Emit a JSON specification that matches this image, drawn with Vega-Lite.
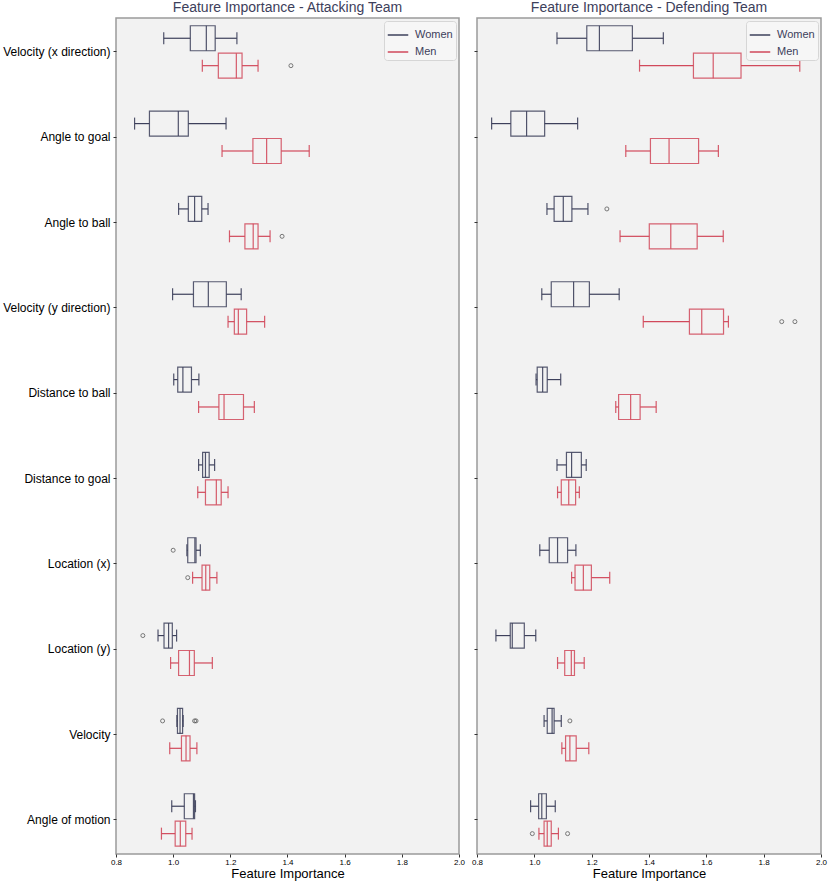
{
  "$schema": "https://vega.github.io/schema/vega-lite/v6.json",
  "padding": {"left": 1, "top": 0, "right": 6, "bottom": 0},
  "background": "white",
  "datasets": {
    "boxes": [
      {"team": "Attacking", "feature": "Velocity (x direction)", "gender": "Women", "lower": 0.967, "q1": 1.06, "median": 1.116, "q3": 1.147, "upper": 1.223},
      {"team": "Attacking", "feature": "Velocity (x direction)", "gender": "Men", "lower": 1.102, "q1": 1.158, "median": 1.221, "q3": 1.241, "upper": 1.297},
      {"team": "Attacking", "feature": "Angle to goal", "gender": "Women", "lower": 0.865, "q1": 0.917, "median": 1.018, "q3": 1.053, "upper": 1.185},
      {"team": "Attacking", "feature": "Angle to goal", "gender": "Men", "lower": 1.171, "q1": 1.279, "median": 1.327, "q3": 1.378, "upper": 1.476},
      {"team": "Attacking", "feature": "Angle to ball", "gender": "Women", "lower": 1.019, "q1": 1.053, "median": 1.075, "q3": 1.1, "upper": 1.122},
      {"team": "Attacking", "feature": "Angle to ball", "gender": "Men", "lower": 1.197, "q1": 1.251, "median": 1.28, "q3": 1.297, "upper": 1.339},
      {"team": "Attacking", "feature": "Velocity (y direction)", "gender": "Women", "lower": 0.998, "q1": 1.071, "median": 1.123, "q3": 1.186, "upper": 1.238},
      {"team": "Attacking", "feature": "Velocity (y direction)", "gender": "Men", "lower": 1.192, "q1": 1.214, "median": 1.228, "q3": 1.257, "upper": 1.32},
      {"team": "Attacking", "feature": "Distance to ball", "gender": "Women", "lower": 1.002, "q1": 1.016, "median": 1.034, "q3": 1.064, "upper": 1.09},
      {"team": "Attacking", "feature": "Distance to ball", "gender": "Men", "lower": 1.089, "q1": 1.16, "median": 1.178, "q3": 1.246, "upper": 1.284},
      {"team": "Attacking", "feature": "Distance to goal", "gender": "Women", "lower": 1.089, "q1": 1.103, "median": 1.113, "q3": 1.126, "upper": 1.145},
      {"team": "Attacking", "feature": "Distance to goal", "gender": "Men", "lower": 1.086, "q1": 1.113, "median": 1.151, "q3": 1.168, "upper": 1.192},
      {"team": "Attacking", "feature": "Location (x)", "gender": "Women", "lower": 1.048, "q1": 1.051, "median": 1.076, "q3": 1.08, "upper": 1.095},
      {"team": "Attacking", "feature": "Location (x)", "gender": "Men", "lower": 1.068, "q1": 1.101, "median": 1.114, "q3": 1.128, "upper": 1.153},
      {"team": "Attacking", "feature": "Location (y)", "gender": "Women", "lower": 0.947, "q1": 0.968, "median": 0.984, "q3": 0.997, "upper": 1.012},
      {"team": "Attacking", "feature": "Location (y)", "gender": "Men", "lower": 0.991, "q1": 1.019, "median": 1.057, "q3": 1.074, "upper": 1.137},
      {"team": "Attacking", "feature": "Velocity", "gender": "Women", "lower": 1.013, "q1": 1.015, "median": 1.024, "q3": 1.033, "upper": 1.035},
      {"team": "Attacking", "feature": "Velocity", "gender": "Men", "lower": 0.988, "q1": 1.029, "median": 1.045, "q3": 1.059, "upper": 1.083},
      {"team": "Attacking", "feature": "Angle of motion", "gender": "Women", "lower": 0.995, "q1": 1.039, "median": 1.071, "q3": 1.075, "upper": 1.078},
      {"team": "Attacking", "feature": "Angle of motion", "gender": "Men", "lower": 0.959, "q1": 1.007, "median": 1.025, "q3": 1.044, "upper": 1.066},
      {"team": "Defending", "feature": "Velocity (x direction)", "gender": "Women", "lower": 1.079, "q1": 1.183, "median": 1.227, "q3": 1.342, "upper": 1.45},
      {"team": "Defending", "feature": "Velocity (x direction)", "gender": "Men", "lower": 1.367, "q1": 1.555, "median": 1.624, "q3": 1.721, "upper": 1.926},
      {"team": "Defending", "feature": "Angle to goal", "gender": "Women", "lower": 0.851, "q1": 0.918, "median": 0.973, "q3": 1.036, "upper": 1.151},
      {"team": "Defending", "feature": "Angle to goal", "gender": "Men", "lower": 1.319, "q1": 1.405, "median": 1.47, "q3": 1.573, "upper": 1.642},
      {"team": "Defending", "feature": "Angle to ball", "gender": "Women", "lower": 1.044, "q1": 1.069, "median": 1.101, "q3": 1.131, "upper": 1.187},
      {"team": "Defending", "feature": "Angle to ball", "gender": "Men", "lower": 1.299, "q1": 1.401, "median": 1.476, "q3": 1.568, "upper": 1.659},
      {"team": "Defending", "feature": "Velocity (y direction)", "gender": "Women", "lower": 1.026, "q1": 1.059, "median": 1.137, "q3": 1.192, "upper": 1.296},
      {"team": "Defending", "feature": "Velocity (y direction)", "gender": "Men", "lower": 1.38, "q1": 1.541, "median": 1.584, "q3": 1.66, "upper": 1.677},
      {"team": "Defending", "feature": "Distance to ball", "gender": "Women", "lower": 1.006, "q1": 1.01, "median": 1.029, "q3": 1.045, "upper": 1.092},
      {"team": "Defending", "feature": "Distance to ball", "gender": "Men", "lower": 1.284, "q1": 1.294, "median": 1.336, "q3": 1.369, "upper": 1.425},
      {"team": "Defending", "feature": "Distance to goal", "gender": "Women", "lower": 1.079, "q1": 1.112, "median": 1.13, "q3": 1.164, "upper": 1.181},
      {"team": "Defending", "feature": "Distance to goal", "gender": "Men", "lower": 1.081, "q1": 1.094, "median": 1.12, "q3": 1.144, "upper": 1.157},
      {"team": "Defending", "feature": "Location (x)", "gender": "Women", "lower": 1.019, "q1": 1.052, "median": 1.081, "q3": 1.116, "upper": 1.145},
      {"team": "Defending", "feature": "Location (x)", "gender": "Men", "lower": 1.13, "q1": 1.142, "median": 1.171, "q3": 1.199, "upper": 1.263},
      {"team": "Defending", "feature": "Location (y)", "gender": "Women", "lower": 0.866, "q1": 0.916, "median": 0.923, "q3": 0.965, "upper": 1.005},
      {"team": "Defending", "feature": "Location (y)", "gender": "Men", "lower": 1.081, "q1": 1.106, "median": 1.129, "q3": 1.14, "upper": 1.174},
      {"team": "Defending", "feature": "Velocity", "gender": "Women", "lower": 1.034, "q1": 1.045, "median": 1.062, "q3": 1.069, "upper": 1.094},
      {"team": "Defending", "feature": "Velocity", "gender": "Men", "lower": 1.096, "q1": 1.109, "median": 1.124, "q3": 1.146, "upper": 1.19},
      {"team": "Defending", "feature": "Angle of motion", "gender": "Women", "lower": 0.987, "q1": 1.015, "median": 1.026, "q3": 1.042, "upper": 1.073},
      {"team": "Defending", "feature": "Angle of motion", "gender": "Men", "lower": 1.016, "q1": 1.034, "median": 1.045, "q3": 1.059, "upper": 1.084}
    ],
    "outliers": [
      {"team": "Attacking", "feature": "Velocity (x direction)", "gender": "Men", "value": 1.412},
      {"team": "Attacking", "feature": "Angle to ball", "gender": "Men", "value": 1.381},
      {"team": "Attacking", "feature": "Location (x)", "gender": "Women", "value": 1.0},
      {"team": "Attacking", "feature": "Location (x)", "gender": "Men", "value": 1.051},
      {"team": "Attacking", "feature": "Location (y)", "gender": "Women", "value": 0.894},
      {"team": "Attacking", "feature": "Velocity", "gender": "Women", "value": 0.963},
      {"team": "Attacking", "feature": "Velocity", "gender": "Women", "value": 1.075},
      {"team": "Attacking", "feature": "Velocity", "gender": "Women", "value": 1.08},
      {"team": "Defending", "feature": "Angle to ball", "gender": "Women", "value": 1.253},
      {"team": "Defending", "feature": "Velocity (y direction)", "gender": "Men", "value": 1.863},
      {"team": "Defending", "feature": "Velocity (y direction)", "gender": "Men", "value": 1.909},
      {"team": "Defending", "feature": "Velocity", "gender": "Women", "value": 1.124},
      {"team": "Defending", "feature": "Angle of motion", "gender": "Men", "value": 0.993},
      {"team": "Defending", "feature": "Angle of motion", "gender": "Men", "value": 1.116}
    ]
  },
  "hconcat": [
    {
      "width": 343,
      "height": 836,
      "title": {"text": "Feature Importance - Attacking Team"},
      "encoding": {
        "y": {"field": "feature", "type": "nominal", "title": null,
          "scale": {"domain": ["Velocity (x direction)", "Angle to goal", "Angle to ball", "Velocity (y direction)", "Distance to ball", "Distance to goal", "Location (x)", "Location (y)", "Velocity", "Angle of motion"], "paddingInner": 0, "paddingOuter": 0, "range": [-8.7, 844.6]},
          "axis": {"labels": true}},
        "yOffset": {"field": "gender", "type": "nominal", "scale": {"domain": ["Women", "Men"], "paddingInner": 0, "paddingOuter": 0.557}}
      },
      "layer": [
        {"data": {"name": "boxes"}, "transform": [{"filter": "datum.team === 'Attacking'"}],
          "mark": {"type": "rule", "strokeWidth": 1.2},
          "encoding": {"x": {"field": "lower", "type": "quantitative", "scale": {"domain": [0.8, 2.0], "nice": false, "zero": false}, "title": "Feature Importance", "axis": {"values": [0.8, 1.0, 1.2, 1.4, 1.6, 1.8, 2.0], "format": ".1f"}}, "x2": {"field": "q1"},
            "color": {"field": "gender", "type": "nominal", "scale": {"domain": ["Women", "Men"], "range": ["#3d405b", "#d1495b"]}, "title": null}}},
        {"data": {"name": "boxes"}, "transform": [{"filter": "datum.team === 'Attacking'"}],
          "mark": {"type": "rule", "strokeWidth": 1.2},
          "encoding": {"x": {"field": "q3", "type": "quantitative"}, "x2": {"field": "upper"},
            "color": {"field": "gender", "type": "nominal"}}},
        {"data": {"name": "boxes"}, "transform": [{"filter": "datum.team === 'Attacking'"}],
          "mark": {"type": "bar", "filled": false, "strokeWidth": 1.2, "height": 25, "opacity": 0.85},
          "encoding": {"x": {"field": "q1", "type": "quantitative"}, "x2": {"field": "q3"},
            "color": {"field": "gender", "type": "nominal"}}},
        {"data": {"name": "boxes"}, "transform": [{"filter": "datum.team === 'Attacking'"}],
          "mark": {"type": "tick", "size": 25, "thickness": 1.2, "opacity": 0.9},
          "encoding": {"x": {"field": "median", "type": "quantitative"},
            "color": {"field": "gender", "type": "nominal"}}},
        {"data": {"name": "boxes"}, "transform": [{"filter": "datum.team === 'Attacking'"}],
          "mark": {"type": "tick", "size": 12, "thickness": 1.2, "opacity": 0.9},
          "encoding": {"x": {"field": "lower", "type": "quantitative"},
            "color": {"field": "gender", "type": "nominal"}}},
        {"data": {"name": "boxes"}, "transform": [{"filter": "datum.team === 'Attacking'"}],
          "mark": {"type": "tick", "size": 12, "thickness": 1.2, "opacity": 0.9},
          "encoding": {"x": {"field": "upper", "type": "quantitative"},
            "color": {"field": "gender", "type": "nominal"}}},
        {"data": {"name": "outliers"}, "transform": [{"filter": "datum.team === 'Attacking'"}],
          "mark": {"type": "point", "shape": "circle", "filled": false, "size": 16, "stroke": "#444444", "strokeWidth": 1},
          "encoding": {"x": {"field": "value", "type": "quantitative"}}}
      ]
    },
    {
      "width": 344,
      "height": 836,
      "title": {"text": "Feature Importance - Defending Team"},
      "encoding": {
        "y": {"field": "feature", "type": "nominal", "title": null,
          "scale": {"domain": ["Velocity (x direction)", "Angle to goal", "Angle to ball", "Velocity (y direction)", "Distance to ball", "Distance to goal", "Location (x)", "Location (y)", "Velocity", "Angle of motion"], "paddingInner": 0, "paddingOuter": 0, "range": [-8.7, 844.6]},
          "axis": {"labels": false}},
        "yOffset": {"field": "gender", "type": "nominal", "scale": {"domain": ["Women", "Men"], "paddingInner": 0, "paddingOuter": 0.557}}
      },
      "layer": [
        {"data": {"name": "boxes"}, "transform": [{"filter": "datum.team === 'Defending'"}],
          "mark": {"type": "rule", "strokeWidth": 1.2},
          "encoding": {"x": {"field": "lower", "type": "quantitative", "scale": {"domain": [0.8, 2.0], "nice": false, "zero": false}, "title": "Feature Importance", "axis": {"values": [0.8, 1.0, 1.2, 1.4, 1.6, 1.8, 2.0], "format": ".1f"}}, "x2": {"field": "q1"},
            "color": {"field": "gender", "type": "nominal", "scale": {"domain": ["Women", "Men"], "range": ["#3d405b", "#d1495b"]}, "title": null}}},
        {"data": {"name": "boxes"}, "transform": [{"filter": "datum.team === 'Defending'"}],
          "mark": {"type": "rule", "strokeWidth": 1.2},
          "encoding": {"x": {"field": "q3", "type": "quantitative"}, "x2": {"field": "upper"},
            "color": {"field": "gender", "type": "nominal"}}},
        {"data": {"name": "boxes"}, "transform": [{"filter": "datum.team === 'Defending'"}],
          "mark": {"type": "bar", "filled": false, "strokeWidth": 1.2, "height": 25, "opacity": 0.85},
          "encoding": {"x": {"field": "q1", "type": "quantitative"}, "x2": {"field": "q3"},
            "color": {"field": "gender", "type": "nominal"}}},
        {"data": {"name": "boxes"}, "transform": [{"filter": "datum.team === 'Defending'"}],
          "mark": {"type": "tick", "size": 25, "thickness": 1.2, "opacity": 0.9},
          "encoding": {"x": {"field": "median", "type": "quantitative"},
            "color": {"field": "gender", "type": "nominal"}}},
        {"data": {"name": "boxes"}, "transform": [{"filter": "datum.team === 'Defending'"}],
          "mark": {"type": "tick", "size": 12, "thickness": 1.2, "opacity": 0.9},
          "encoding": {"x": {"field": "lower", "type": "quantitative"},
            "color": {"field": "gender", "type": "nominal"}}},
        {"data": {"name": "boxes"}, "transform": [{"filter": "datum.team === 'Defending'"}],
          "mark": {"type": "tick", "size": 12, "thickness": 1.2, "opacity": 0.9},
          "encoding": {"x": {"field": "upper", "type": "quantitative"},
            "color": {"field": "gender", "type": "nominal"}}},
        {"data": {"name": "outliers"}, "transform": [{"filter": "datum.team === 'Defending'"}],
          "mark": {"type": "point", "shape": "circle", "filled": false, "size": 16, "stroke": "#444444", "strokeWidth": 1},
          "encoding": {"x": {"field": "value", "type": "quantitative"}}}
      ]
    }
  ],
  "spacing": 4,
  "resolve": {"scale": {"color": "independent"}, "legend": {"color": "independent"}},
  "config": {
    "font": "Liberation Sans, Arial, sans-serif",
    "view": {"fill": "#f2f2f2", "stroke": "#9a9a9a", "strokeWidth": 1.5},
    "title": {"fontSize": 14, "fontWeight": "normal", "color": "#3d405b", "offset": 3},
    "axis": {"domain": false, "grid": false, "tickColor": "#333333", "labelColor": "#000000", "titleColor": "#000000", "titleFontWeight": "normal"},
    "axisX": {"labelFontSize": 8, "tickSize": 3, "labelPadding": 1, "titleFontSize": 13, "titlePadding": 1, "labelFlush": false},
    "axisY": {"labelFontSize": 12, "tickSize": 3, "labelPadding": 3},
    "legend": {"orient": "top-right", "offset": 3, "fillColor": "#f6f6f6", "strokeColor": "#d6d6d6", "padding": 3, "cornerRadius": 3, "labelFontSize": 11, "labelColor": "#3d405b", "symbolType": "stroke", "symbolStrokeWidth": 1.5, "symbolSize": 420, "rowPadding": 1, "symbolOpacity": 1, "labelOffset": 6}
  }
}
